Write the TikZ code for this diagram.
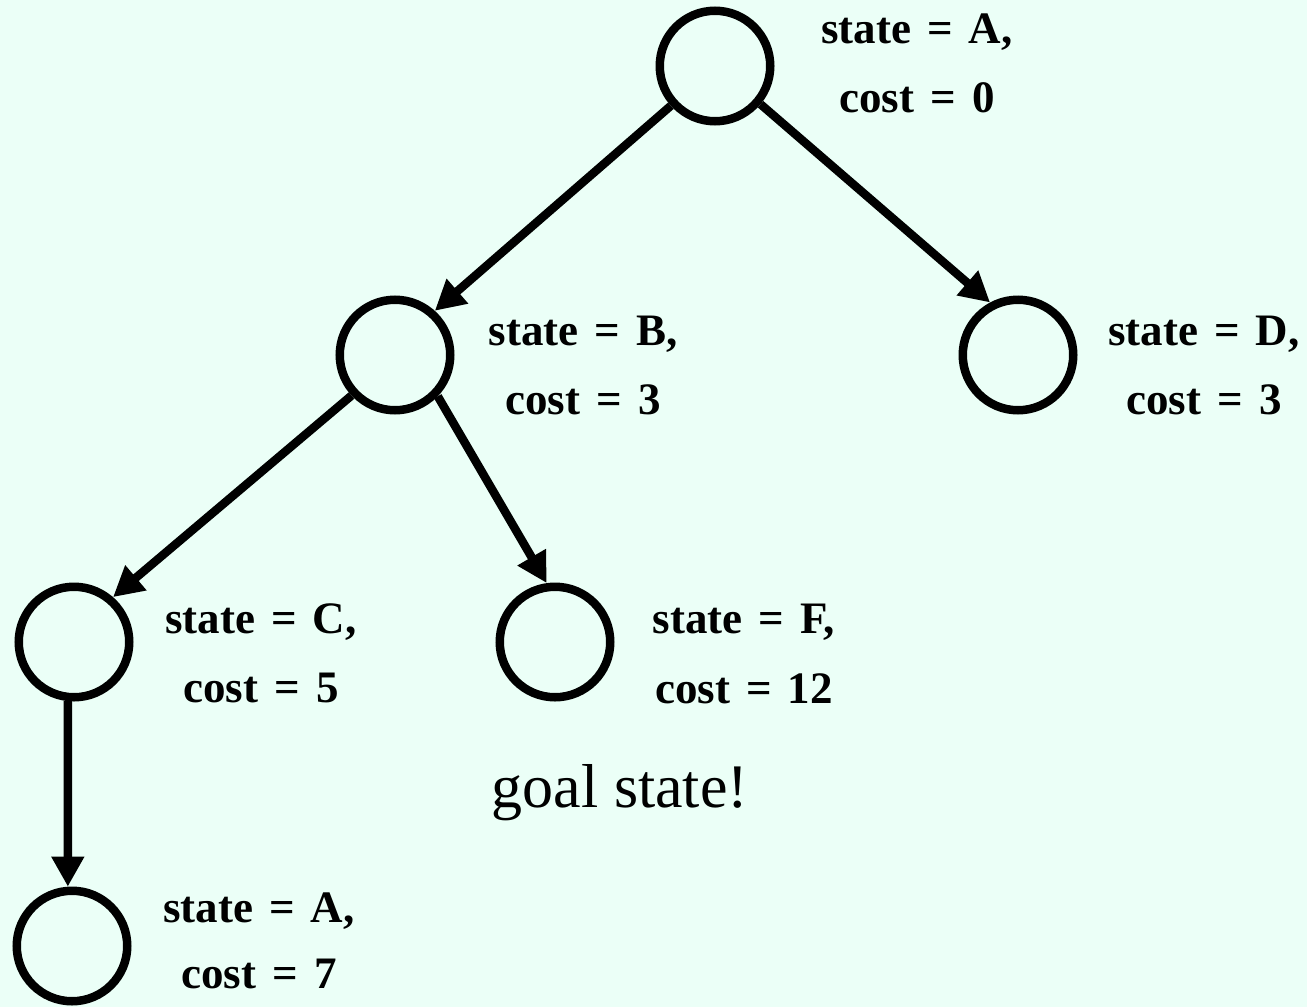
\documentclass[tikz,border=0pt]{standalone}
\usepackage{fontspec}
\setmainfont{Liberation Serif}
\usetikzlibrary{arrows.meta}
\definecolor{bg}{RGB}{235,255,247}
\newcommand\labfont{\fontsize{45}{67}\selectfont\bfseries\spaceskip=16pt plus 0pt minus 0pt\relax}
\tikzset{
  st/.style={circle, draw=black, line width=8.5pt, minimum size=110.5pt, inner sep=0pt},
  lab/.style={anchor=base, inner sep=0pt, font=\labfont},
  edge/.style={line width=8.5pt, -{Triangle[length=30pt,width=31pt]}},
  goal/.style={anchor=base, inner sep=0pt, font=\fontsize{62}{74}\selectfont}
}
\begin{document}
\begin{tikzpicture}[x=1pt,y=-1pt]
\fill[bg] (0,0) rectangle (1307,1007);
\useasboundingbox (0,0) rectangle (1307,1007);
\node[st] (A) at (715,66) {};
\node[st] (B) at (395,355) {};
\node[st] (D) at (1018,355) {};
\node[st] (C) at (74,642) {};
\node[st] (F) at (555,642) {};
\node[st] (A2) at (72,946) {};
\draw[edge] (A.222) -- (B.48);
\draw[edge] (A.-40) -- (D.118);
\draw[edge] (B.223) -- (C.49);
\draw[edge] (B.-44) -- (F.98);
\draw[edge] (C.264) -- (A2.94);
\node[lab] (la1) at (917,43) {state = A,};
\node[lab] (la2) at (917,112) {cost = 0};
\node[lab] (lb1) at (583,345) {state = B,};
\node[lab] (lb2) at (583,414) {cost = 3};
\node[lab] (ld1) at (1204,345) {state = D,};
\node[lab] (ld2) at (1204,414) {cost = 3};
\node[lab] (lc1) at (261,633) {state = C,};
\node[lab] (lc2) at (261,702) {cost = 5};
\node[lab] (lf1) at (744,633) {state = F,};
\node[lab] (lf2) at (744,703) {cost = 12};
\node[lab] (le1) at (259,922) {state = A,};
\node[lab] (le2) at (259,988) {cost = 7};
\node[goal] (g) at (620,807) {goal state!};
\end{tikzpicture}
\end{document}
